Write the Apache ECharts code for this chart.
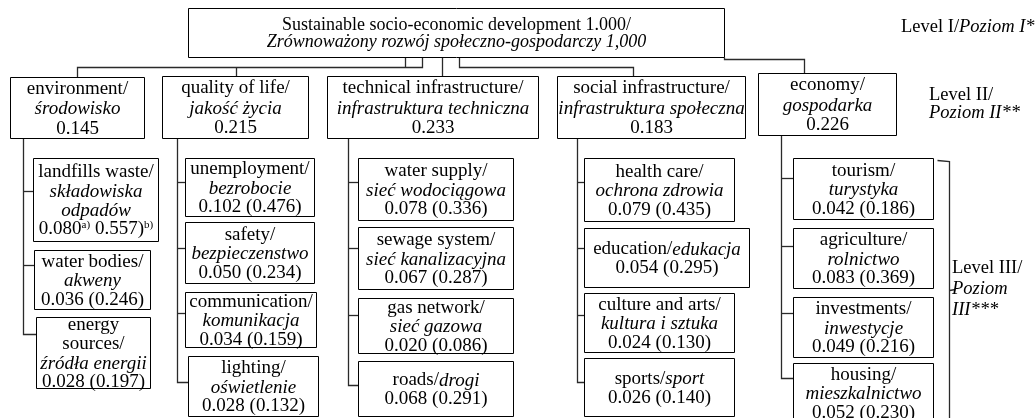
<!DOCTYPE html>
<html>
<head>
<meta charset="utf-8">
<script src="https://cdn.jsdelivr.net/npm/echarts@6/dist/echarts.min.js"></script>
<style>html,body{margin:0;padding:0;background:#fff}#c{width:1035px;height:418px}</style>
</head>
<body>
<div id="c"></div>
<script>
// ---------------- DATA ----------------
const rootEn = 'Sustainable socio-economic development';
const rootPl = 'Zrównoważony rozwój społeczno-gospodarczy';
const rootValue = 1.000;

const groupsEn = ['environment', 'quality of life', 'technical infrastructure', 'social infrastructure', 'economy'];
const groupsPl = ['środowisko', 'jakość życia', 'infrastruktura techniczna', 'infrastruktura społeczna', 'gospodarka'];
const groupWeights = [0.145, 0.215, 0.233, 0.183, 0.226];

const subEn = [
  ['landfills waste', 'water bodies', 'energy sources'],
  ['unemployment', 'safety', 'communication', 'lighting'],
  ['water supply', 'sewage system', 'gas network', 'roads'],
  ['health care', 'education', 'culture and arts', 'sports'],
  ['tourism', 'agriculture', 'investments', 'housing']
];
const subPl = [
  ['składowiska odpadów', 'akweny', 'źródła energii'],
  ['bezrobocie', 'bezpieczenstwo', 'komunikacja', 'oświetlenie'],
  ['sieć wodociągowa', 'sieć kanalizacyjna', 'sieć gazowa', 'drogi'],
  ['ochrona zdrowia', 'edukacja', 'kultura i sztuka', 'sport'],
  ['turystyka', 'rolnictwo', 'inwestycje', 'mieszkalnictwo']
];
const subGlobal = [
  [0.080, 0.036, 0.028],
  [0.102, 0.050, 0.034, 0.028],
  [0.078, 0.067, 0.020, 0.068],
  [0.079, 0.054, 0.024, 0.026],
  [0.042, 0.083, 0.049, 0.052]
];
const subLocal = [
  [0.557, 0.246, 0.197],
  [0.476, 0.234, 0.159, 0.132],
  [0.336, 0.287, 0.086, 0.291],
  [0.435, 0.295, 0.130, 0.140],
  [0.186, 0.369, 0.216, 0.230]
];
const footnoteMarks = ['a)', 'b)'];
const footnotedItem = [0, 0];

const levelLabelsEn = ['Level I/', 'Level II/', 'Level III/'];
const levelLabelsPl = ['Poziom I*', 'Poziom II**', 'Poziom III***'];

// ---------------- LAYOUT (geometry only) ----------------
const rootBox = [188, 8, 724, 57];
const groupBoxes = [
  [10, 77, 144, 138],
  [162, 76, 308, 138],
  [327, 76, 538, 138],
  [557, 76, 745, 138],
  [758, 73, 896, 135]
];
const groupDropX = [23, 177, 348, 577, 781];
const subBoxes = [
  [[33, 158, 158, 241], [34, 250, 150, 309], [36, 317, 150, 388]],
  [[185, 158, 314, 216], [185, 222, 314, 283], [185, 292, 316, 347], [188, 356, 318, 416]],
  [[358, 158, 513, 220], [358, 227, 513, 289], [358, 298, 513, 353], [358, 361, 513, 416]],
  [[584, 158, 734, 221], [584, 228, 749, 287], [584, 293, 734, 352], [584, 358, 734, 416]],
  [[793, 158, 933, 219], [793, 228, 933, 288], [793, 297, 933, 357], [793, 363, 933, 422]]
];
const subTickY = [
  [191, 265, 334],
  [182, 248, 313, 382],
  [182, 248, 315, 385],
  [182, 248, 315, 382],
  [178, 246, 313, 378]
];
// text arrangement: 'std' = en / pl / values; 'inline' = en/pl on one line; 'wrapPl'; 'wrapEn'
const subMode = [
  ['wrapPl', 'std', 'wrapEn'],
  ['std', 'std', 'std', 'std'],
  ['std', 'std', 'std', 'inline'],
  ['std', 'inline', 'std', 'inline'],
  ['std', 'std', 'std', 'std']
];
const topConnectors = [
  [[422, 57], [422, 67], [77, 67], [77, 77]],
  [[405, 57], [405, 67]],
  [[236, 67], [236, 76]],
  [[442, 57], [442, 76]],
  [[459, 57], [459, 67], [633, 67], [633, 76]],
  [[724, 57], [724, 59], [804, 59], [804, 73]]
];
const bracket = [[[937, 160], [949, 161], [949, 420]], [[949, 290], [955, 289]]];
const levelLabelPos = [[901, 27], [929, 104], [952, 289]];

// ---------------- BUILD ----------------
const FONT = '"Liberation Serif", "Times New Roman", "DejaVu Serif", serif';
function rich(fs, lh) {
  return {
    n: { fontFamily: FONT, fontSize: fs, lineHeight: lh, color: '#000' },
    i: { fontFamily: FONT, fontSize: fs, lineHeight: lh, color: '#000', fontStyle: 'italic' },
    s: { fontFamily: FONT, fontSize: 11, lineHeight: 12, color: '#000', verticalAlign: 'top' }
  };
}
const f3 = v => v.toFixed(3);

const nodes = [];
nodes.push({
  rect: rootBox,
  text: `{n|${rootEn} ${f3(rootValue)}/}\n{i|${rootPl} ${f3(rootValue).replace('.', ',')}}`,
  rich: rich(18, 17)
});
groupsEn.forEach((en, g) => {
  nodes.push({
    rect: groupBoxes[g],
    text: `{n|${en}/}\n{i|${groupsPl[g]}}\n{n|${f3(groupWeights[g])}}`,
    rich: rich(19, 20)
  });
  subEn[g].forEach((sen, k) => {
    const pl = subPl[g][k];
    const mode = subMode[g][k];
    let head;
    if (mode === 'inline') head = `{n|${sen}/}{i|${pl}}`;
    else if (mode === 'wrapPl') head = `{n|${sen}/}\n` + pl.split(' ').map(w => `{i|${w}}`).join('\n');
    else if (mode === 'wrapEn') head = sen.split(' ').map((w, j, a) => `{n|${w}${j === a.length - 1 ? '/' : ''}}`).join('\n') + `\n{i|${pl}}`;
    else head = `{n|${sen}/}\n{i|${pl}}`;
    let nums;
    if (g === footnotedItem[0] && k === footnotedItem[1]) {
      nums = `{n|${f3(subGlobal[g][k])}}{s|${footnoteMarks[0]}}{n| ${f3(subLocal[g][k])})}{s|${footnoteMarks[1]}}`;
    } else {
      nums = `{n|${f3(subGlobal[g][k])} (${f3(subLocal[g][k])})}`;
    }
    nodes.push({ rect: subBoxes[g][k], text: head + '\n' + nums, rich: rich(19, 19) });
  });
});

// connector polylines
const connectors = topConnectors.slice();
groupsEn.forEach((en, g) => {
  const dx = groupDropX[g];
  const ticks = subTickY[g];
  const last = ticks[ticks.length - 1];
  connectors.push([[dx, groupBoxes[g][3]], [dx, last], [subBoxes[g][ticks.length - 1][0], last]]);
  ticks.slice(0, -1).forEach((ty, k) => connectors.push([[dx, ty], [subBoxes[g][k][0], ty]]));
});
bracket.forEach(b => connectors.push(b));

// level labels
const levelTexts = [
  `{n|${levelLabelsEn[0]}}{i|${levelLabelsPl[0]}}`,
  `{n|${levelLabelsEn[1]}}\n{i|${levelLabelsPl[1]}}`,
  `{n|${levelLabelsEn[2]}}\n` + levelLabelsPl[2].split(' ').map(w => `{i|${w}}`).join('\n')
];
const levelLH = [19, 18, 21];

const chart = echarts.init(document.getElementById('c'), null, { renderer: 'canvas' });
const crisp = v => Math.round(v) + 0.5;

chart.setOption({
  animation: false,
  backgroundColor: '#fff',
  grid: { left: 0, right: 0, top: 0, bottom: 0 },
  xAxis: { type: 'value', min: 0, max: 1035, show: false },
  yAxis: { type: 'value', min: 0, max: 418, inverse: true, show: false },
  series: [
    {
      type: 'custom',
      coordinateSystem: 'cartesian2d',
      silent: true,
      clip: false,
      data: connectors.map((c, i) => [c[0][0], c[0][1], i]),
      renderItem: function (params, api) {
        const pts = connectors[api.value(2)].map(p => {
          const q = api.coord(p);
          return [crisp(q[0]), crisp(q[1])];
        });
        return {
          type: 'polyline',
          shape: { points: pts },
          style: { stroke: '#2a2a2a', lineWidth: 1.3, fill: null }
        };
      }
    },
    {
      type: 'custom',
      coordinateSystem: 'cartesian2d',
      silent: true,
      clip: false,
      data: nodes.map((n, i) => [n.rect[0], n.rect[1], n.rect[2], n.rect[3], i]),
      renderItem: function (params, api) {
        const n = nodes[api.value(4)];
        const p0 = api.coord([api.value(0), api.value(1)]);
        const p1 = api.coord([api.value(2), api.value(3)]);
        const x0 = crisp(p0[0]), y0 = crisp(p0[1]), x1 = crisp(p1[0]), y1 = crisp(p1[1]);
        return {
          type: 'group',
          children: [
            { type: 'rect', shape: { x: x0, y: y0, width: x1 - x0, height: y1 - y0 },
              style: { fill: '#fff', stroke: '#000', lineWidth: 1 } },
            { type: 'text', x: (x0 + x1) / 2, y: (y0 + y1) / 2 + 1,
              style: { text: n.text, rich: n.rich, align: 'center', verticalAlign: 'middle',
                       fontFamily: FONT, fontSize: 19, fill: '#000' } }
          ]
        };
      }
    },
    {
      type: 'custom',
      coordinateSystem: 'cartesian2d',
      silent: true,
      clip: false,
      data: levelLabelPos.map((p, i) => [p[0], p[1], i]),
      renderItem: function (params, api) {
        const i = api.value(2);
        const p = api.coord([api.value(0), api.value(1)]);
        return {
          type: 'text', x: p[0], y: p[1],
          style: { text: levelTexts[i], rich: rich(18.5, levelLH[i]), align: 'left', verticalAlign: 'middle',
                   fontFamily: FONT, fontSize: 18.5, fill: '#000' }
        };
      }
    }
  ]
});
</script>
</body>
</html>
